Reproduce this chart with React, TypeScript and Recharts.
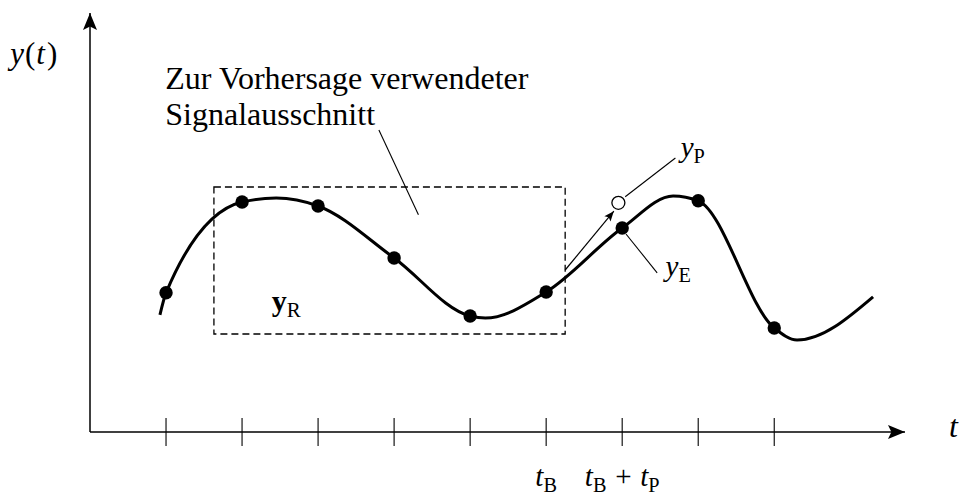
import {
  ComposedChart,
  Line,
  Scatter,
  XAxis,
  YAxis,
  ReferenceArea,
  ReferenceDot,
  ReferenceLine,
} from "recharts"

// sampled signal y(t) at the tick instants
const sampleTimes = [1, 2, 3, 4, 5, 6, 7, 8, 9]
const sampleValues = [3.48, 5.75, 5.65, 4.35, 2.9, 3.5, 5.1, 5.78, 2.6]

// continuous signal, read at the samples and at its turning points
const curveTimes = [0.92, 1, 2, 2.45, 3, 4, 5, 5.2, 6, 7, 7.67, 8, 9, 9.3, 10.3]
const curveValues = [2.93, 3.48, 5.75, 5.85, 5.65, 4.35, 2.9, 2.85, 3.5, 5.1, 5.9, 5.78, 2.6, 2.3, 3.38]

// tick labels below the time axis
const tickLabels = ["", "", "", "", "", "t_B", "t_B + t_P", "", ""]

// window of samples used for the prediction
const windowStart = 1.63
const windowEnd = 6.25
const windowLow = 2.45
const windowHigh = 6.125

// predicted value y_P
const predictedTime = 6.95
const predictedValue = 5.73

const tMax = 10.72
const yMax = 10.475

const samples = sampleTimes.map((t, i) => ({ t, v: sampleValues[i] }))
const curve = curveTimes.map((t, i) => ({ t, v: curveValues[i] }))

const FONT = "'Liberation Serif', 'Times New Roman', serif"

const Arrowhead = ({ x, y, angle, length, half }: any) => {
  const notch = length * 0.8
  return (
    <polygon
      points={`0,0 ${-length},${-half} ${-notch},0 ${-length},${half}`}
      transform={`translate(${x},${y}) rotate(${angle})`}
      fill="#000"
    />
  )
}

const ArrowLine = ({ x1, y1, x2, y2 }: any) => {
  const angle = (Math.atan2(y2 - y1, x2 - x1) * 180) / Math.PI
  return (
    <g>
      <line x1={x1} y1={y1} x2={x2} y2={y2} stroke="#000" strokeWidth={1.2} />
      <Arrowhead x={x2} y={y2} angle={angle} length={10} half={4} />
    </g>
  )
}

// italic symbols with upright subscripts, e.g. "t_B + t_P"
const MathLabel = ({ x, y, text, size, anchor = "start", bold = false }: any) => {
  const parts = text.split(" ")
  const gap = size * 0.3
  return (
    <text x={x} y={y} fontFamily={FONT} fontSize={size} textAnchor={anchor} fill="#000">
      {parts.map((p: string, i: number) => {
        const prevSub = i > 0 && parts[i - 1].includes("_")
        if (p === "+") {
          return (
            <tspan key={i} dx={gap} dy={prevSub ? -size * 0.2 : 0}>
              +
            </tspan>
          )
        }
        const [base, sub] = p.split("_")
        return [
          <tspan
            key={i + "b"}
            fontStyle={bold ? "normal" : "italic"}
            fontWeight={bold ? "bold" : "normal"}
            dx={i > 0 ? gap : 0}
            dy={prevSub ? -size * 0.2 : 0}
          >
            {base}
          </tspan>,
          sub ? (
            <tspan key={i + "s"} fontSize={size * 0.7} dy={size * 0.2}>
              {sub}
            </tspan>
          ) : null,
        ]
      })}
    </text>
  )
}

const TimeTick = ({ x, y, index }: any) => (
  <g>
    <line x1={x} x2={x} y1={y - 14} y2={y + 14} stroke="#000" strokeWidth={1.1} />
    {tickLabels[index] ? (
      <MathLabel x={x} y={y + 54} text={tickLabels[index]} size={29} anchor="middle" />
    ) : null}
  </g>
)

const label = (text: string, size: number, opts: any = {}) => (p: any) =>
  <MathLabel x={p.cx} y={p.cy} text={text} size={size} {...opts} />

const plain = (text: string) => (p: any) =>
  (
    <text x={p.cx} y={p.cy} fontFamily={FONT} fontSize={32} fill="#000">
      {text}
    </text>
  )

// y(t) with upright parentheses
const signalName = (p: any) => (
  <text x={p.cx} y={p.cy} fontFamily={FONT} fontSize={31} fill="#000">
    <tspan fontStyle="italic">y</tspan>
    <tspan dx={1}>(</tspan>
    <tspan fontStyle="italic" dx={1}>t</tspan>
    <tspan dx={2}>)</tspan>
  </text>
)

export default function App() {
  return (
    <div style={{ position: "absolute", left: 0, top: 0, width: 959, height: 497, background: "#fff" }}>
      <ComposedChart
        width={959}
        height={497}
        margin={{ top: 13, right: 54, bottom: 35, left: 80 }}
      >
        <XAxis
          type="number"
          dataKey="t"
          domain={[0, tMax]}
          ticks={sampleTimes}
          interval={0}
          allowDataOverflow
          height={30}
          tickSize={0}
          tickMargin={0}
          tickLine={false}
          axisLine={{ stroke: "#000", strokeWidth: 1.5 }}
          tick={<TimeTick />}
        />
        <YAxis
          type="number"
          domain={[0, yMax]}
          allowDataOverflow
          width={10}
          tick={false}
          tickLine={false}
          axisLine={{ stroke: "#000", strokeWidth: 1.5 }}
        />

        <ReferenceArea
          x1={windowStart}
          x2={windowEnd}
          y1={windowLow}
          y2={windowHigh}
          fill="none"
          fillOpacity={0}
          stroke="#000"
          strokeOpacity={1}
          strokeWidth={1.3}
          strokeDasharray="7 4"
          ifOverflow="visible"
        />

        <Line
          data={curve}
          dataKey="v"
          type="monotone"
          stroke="#000"
          strokeWidth={3}
          dot={false}
          activeDot={false}
          isAnimationActive={false}
        />
        <Scatter
          data={samples}
          dataKey="v"
          fill="#000"
          shape={(p: any) => <circle cx={p.cx} cy={p.cy} r={6.7} fill="#000" />}
          isAnimationActive={false}
        />

        {/* extrapolation step and pointer lines */}
        <ReferenceLine
          segment={[{ x: 6.25, y: 4.05 }, { x: 6.89, y: 5.52 }]}
          shape={<ArrowLine />}
          ifOverflow="visible"
        />
        <ReferenceLine
          segment={[{ x: 3.8, y: 7.55 }, { x: 4.32, y: 5.43 }]}
          stroke="#000"
          strokeWidth={1.1}
          ifOverflow="visible"
        />
        <ReferenceLine
          segment={[{ x: 7.04, y: 5.88 }, { x: 7.7, y: 6.85 }]}
          stroke="#000"
          strokeWidth={1.1}
          ifOverflow="visible"
        />
        <ReferenceLine
          segment={[{ x: 7.05, y: 4.95 }, { x: 7.46, y: 3.98 }]}
          stroke="#000"
          strokeWidth={1.1}
          ifOverflow="visible"
        />

        <ReferenceDot
          x={predictedTime}
          y={predictedValue}
          ifOverflow="visible"
          shape={(p: any) => (
            <circle cx={p.cx} cy={p.cy} r={6.5} fill="#fff" stroke="#000" strokeWidth={1.3} />
          )}
        />

        {/* axis arrowheads */}
        <ReferenceDot
          x={tMax}
          y={0}
          ifOverflow="visible"
          shape={(p: any) => <Arrowhead x={p.cx} y={p.cy} angle={0} length={17} half={7} />}
        />
        <ReferenceDot
          x={0}
          y={yMax}
          ifOverflow="visible"
          shape={(p: any) => <Arrowhead x={p.cx} y={p.cy} angle={-90} length={17} half={7} />}
        />

        {/* texts */}
        <ReferenceDot x={-1.05} y={9.2} ifOverflow="visible" shape={signalName} />
        <ReferenceDot x={11.3} y={-0.125} ifOverflow="visible" shape={label("t", 32)} />
        <ReferenceDot x={0.99} y={8.575} ifOverflow="visible" shape={plain("Zur Vorhersage verwendeter")} />
        <ReferenceDot x={0.99} y={7.675} ifOverflow="visible" shape={plain("Signalausschnitt")} />
        <ReferenceDot x={7.77} y={6.87} ifOverflow="visible" shape={label("y_P", 29)} />
        <ReferenceDot x={7.57} y={3.9} ifOverflow="visible" shape={label("y_E", 29)} />
        <ReferenceDot x={2.39} y={3.03} ifOverflow="visible" shape={label("y_R", 30, { bold: true })} />
      </ComposedChart>
    </div>
  )
}
